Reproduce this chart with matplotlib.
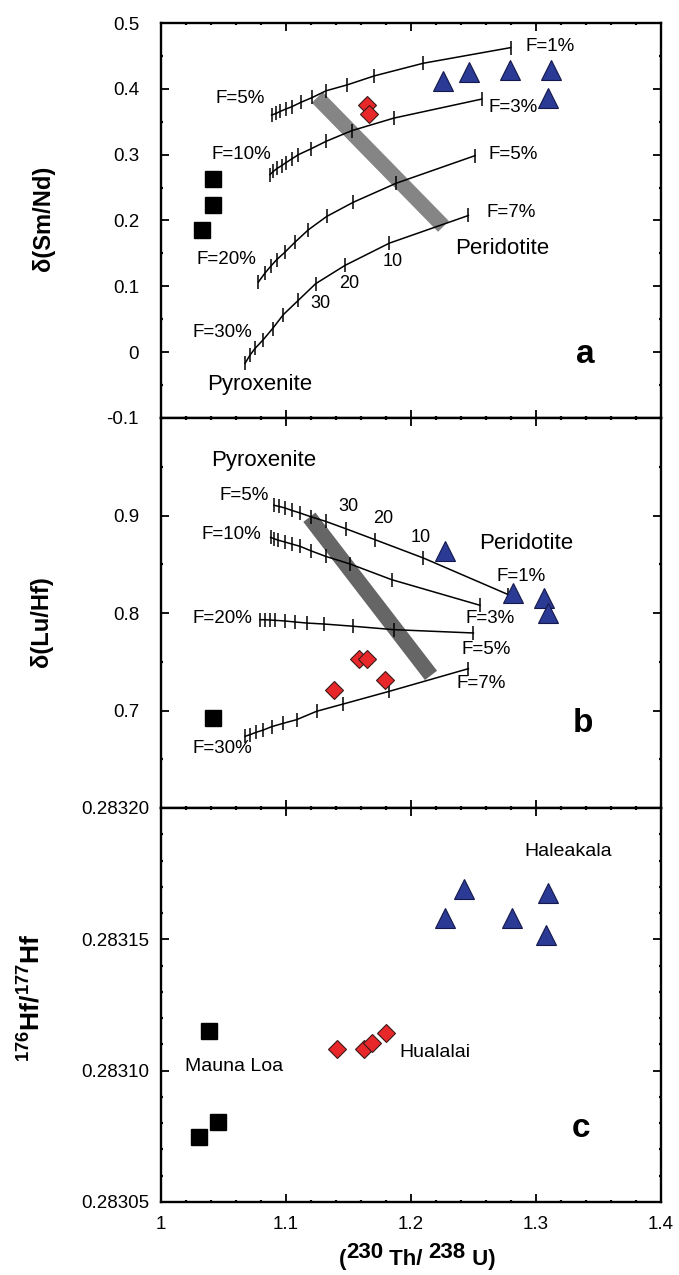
import matplotlib
matplotlib.use('Agg')
import matplotlib.pyplot as plt
from matplotlib.ticker import MultipleLocator, FixedLocator, FormatStrFormatter, FuncFormatter

plt.rcParams['font.family'] = ['Liberation Sans', 'DejaVu Sans']
plt.rcParams['mathtext.fontset'] = 'custom'
plt.rcParams['mathtext.rm'] = 'Liberation Sans'
plt.rcParams['mathtext.bf'] = 'Liberation Sans:bold'
plt.rcParams['axes.unicode_minus'] = False

# ---------------- data: panel a  (Th/U vs delta Sm/Nd) ----------------
a_tri_x = [1.2259, 1.2467, 1.2792, 1.3120, 1.3093]
a_tri_y = [0.412, 0.425, 0.428, 0.428, 0.386]
a_dia_x = [1.1645, 1.1667]
a_dia_y = [0.376, 0.362]
a_sq_x = [1.0413, 1.0419, 1.0325]
a_sq_y = [0.263, 0.224, 0.186]

a_c1_x = [1.0885, 1.0920, 1.0952, 1.0997, 1.1045, 1.1117, 1.1211, 1.1320, 1.1491, 1.1707, 1.2099, 1.2797]
a_c1_y = [0.3601, 0.3626, 0.3656, 0.3692, 0.3727, 0.3793, 0.3869, 0.3970, 0.4061, 0.4197, 0.4389, 0.4626]
a_c2_x = [1.0872, 1.0899, 1.0930, 1.0965, 1.1000, 1.1045, 1.1099, 1.1197, 1.1320, 1.1525, 1.1864, 1.2565]
a_c2_y = [0.2697, 0.2747, 0.2793, 0.2833, 0.2879, 0.2934, 0.3000, 0.3086, 0.3202, 0.3364, 0.3556, 0.3844]
a_c3_x = [1.0779, 1.0832, 1.0877, 1.0925, 1.0992, 1.1072, 1.1179, 1.1325, 1.1538, 1.1880, 1.2512]
a_c3_y = [0.1065, 0.1202, 0.1303, 0.1404, 0.1520, 0.1671, 0.1859, 0.2061, 0.2277, 0.2565, 0.2985]
a_c4_x = [1.0672, 1.0712, 1.0752, 1.0819, 1.0893, 1.0979, 1.1099, 1.1237, 1.1472, 1.1827, 1.2459]
a_c4_y = [-0.0171, -0.0045, 0.0056, 0.0192, 0.0359, 0.0571, 0.0788, 0.1040, 0.1318, 0.1656, 0.2076]
a_band_x = [1.125, 1.226]
a_band_y = [0.387, 0.191]

a_labels = ['F=5%', 'F=10%', 'F=20%', 'F=30%', 'F=1%', 'F=3%', 'F=5%', 'F=7%', '10', '20', '30']
a_lab_x = [1.0637, 1.0645, 1.0520, 1.0493, 1.3112, 1.2819, 1.2819, 1.2805, 1.1853, 1.1504, 1.1277]
a_lab_y = [0.385, 0.300, 0.1404, 0.0293, 0.4636, 0.3717, 0.301, 0.2126, 0.138, 0.104, 0.0738]

# ---------------- data: panel b  (Th/U vs delta Lu/Hf) ----------------
b_tri_x = [1.2272, 1.2813, 1.3064, 1.3099]
b_tri_y = [0.8633, 0.8205, 0.8154, 0.800]
b_dia_x = [1.1587, 1.1651, 1.1387, 1.1792]
b_dia_y = [0.7531, 0.7528, 0.7207, 0.7316]
b_sq_x = [1.0413]
b_sq_y = [0.6923]

b_c1_x = [1.0904, 1.0941, 1.0992, 1.1045, 1.1112, 1.1197, 1.1317, 1.1477, 1.1712, 1.2099, 1.2779]
b_c1_y = [0.9105, 0.9094, 0.9077, 0.9053, 0.9026, 0.8988, 0.8940, 0.8865, 0.8752, 0.8564, 0.8188]
b_c2_x = [1.0877, 1.0904, 1.0939, 1.0992, 1.1045, 1.1112, 1.1197, 1.1317, 1.1512, 1.1845, 1.2552]
b_c2_y = [0.8776, 0.8762, 0.8746, 0.8728, 0.8708, 0.8684, 0.8639, 0.8581, 0.8503, 0.8342, 0.8079]
b_c3_x = [1.0792, 1.0832, 1.0872, 1.0912, 1.0992, 1.1072, 1.1165, 1.1304, 1.1538, 1.1864, 1.2499]
b_c3_y = [0.7931, 0.7931, 0.7928, 0.7925, 0.7918, 0.7908, 0.7897, 0.7887, 0.7864, 0.7829, 0.7795]
b_c4_x = [1.0672, 1.0712, 1.0760, 1.0819, 1.0885, 1.0979, 1.1085, 1.1245, 1.1459, 1.1827, 1.2459]
b_c4_y = [0.6735, 0.6752, 0.6776, 0.6800, 0.6834, 0.6869, 0.6906, 0.6992, 0.7067, 0.7197, 0.7429]
b_band_x = [1.1187, 1.216]
b_band_y = [0.8982, 0.736]

b_labels = ['F=5%', 'F=10%', 'F=20%', 'F=30%', 'F=1%', 'F=3%', 'F=5%', 'F=7%', '10', '20', '30']
b_lab_x = [1.0664, 1.0565, 1.0493, 1.0493, 1.2877, 1.2632, 1.2600, 1.2565, 1.2077, 1.1779, 1.1499]
b_lab_y = [0.9207, 0.8803, 0.7942, 0.6615, 0.8376, 0.7942, 0.7624, 0.7272, 0.8776, 0.8968, 0.9094]

# ---------------- data: panel c  (Th/U vs 176Hf/177Hf) ----------------
c_tri_x = [1.2424, 1.2272, 1.2810, 1.3099, 1.3080]
c_tri_y = [0.2831692, 0.2831580, 0.2831580, 0.2831676, 0.2831516]
c_sq_x = [1.0384, 1.0453, 1.0304]
c_sq_y = [0.2831152, 0.2830804, 0.2830747]
c_dia_x = [1.1411, 1.1621, 1.1685, 1.1797]
c_dia_y = [0.2831081, 0.2831084, 0.2831106, 0.2831144]

c_labels = ['Haleakala', 'Hualalai', 'Mauna Loa']
c_lab_x = [1.3259, 1.2192, 1.0584]
c_lab_y = [0.2831835, 0.2831069, 0.2831014]

x_ticks = [1.0, 1.1, 1.2, 1.3, 1.4]
x_tick_labels = ['1', '1.1', '1.2', '1.3', '1.4']
a_yticks = [-0.1, 0.0, 0.1, 0.2, 0.3, 0.4, 0.5]
b_yticks = [0.7, 0.8, 0.9]
c_yticks = [0.28305, 0.28310, 0.28315, 0.28320]

# ---------------- figure ----------------
W, H = 679, 1275
fig = plt.figure(figsize=(W / 100, H / 100), dpi=100)


def axes_px(top, bottom):
    return fig.add_axes([161 / W, (H - bottom) / H, 500 / W, (bottom - top) / H])


axa = axes_px(23, 418)
axb = axes_px(418, 808)
axc = axes_px(808, 1202)

TICKFS = 13.5


def style(ax, ypad):
    ax.set_xlim(1.0, 1.4)
    ax.xaxis.set_major_locator(FixedLocator(x_ticks))
    ax.xaxis.set_minor_locator(MultipleLocator(0.02))
    ax.tick_params(which='both', direction='in', top=True, right=True, labelsize=TICKFS)
    ax.tick_params(which='major', length=6, width=1.3)
    ax.tick_params(which='minor', length=1.6, width=1.6)
    ax.tick_params(axis='y', pad=ypad)
    ax.tick_params(axis='x', pad=10)
    for s in ax.spines.values():
        s.set_linewidth(1.7)


TRI = dict(marker='^', ms=14, mfc='#2B3A94', mec='#15184A', mew=0.8, ls='none', zorder=5)
DIA = dict(marker='D', ms=9.3, mfc='#E8272B', mec='#3a1a1a', mew=0.8, ls='none', zorder=5)
SQ = dict(marker='s', ms=12, mfc='black', mec='black', ls='none', zorder=5)
CURVE = dict(color='black', lw=1.1, marker='|', ms=9.5, mew=1.1, zorder=3)

FLAB = 13.5
BIG = 16

# ---- panel a ----
style(axa, 15.8)
axa.set_ylim(-0.1, 0.5)
axa.yaxis.set_major_locator(FixedLocator(a_yticks))
axa.yaxis.set_minor_locator(MultipleLocator(0.05))
axa.yaxis.set_major_formatter(FuncFormatter(lambda v, p: f'{round(v, 2):g}'))
axa.tick_params(labelbottom=False)
axa.plot(a_band_x, a_band_y, color='#858585', lw=11, solid_capstyle='butt', zorder=2)
for cx, cy in [(a_c1_x, a_c1_y), (a_c2_x, a_c2_y), (a_c3_x, a_c3_y), (a_c4_x, a_c4_y)]:
    axa.plot(cx, cy, **CURVE)
axa.plot(a_tri_x, a_tri_y, **TRI)
axa.plot(a_dia_x, a_dia_y, **DIA)
axa.plot(a_sq_x, a_sq_y, **SQ)
for s, x, y in zip(a_labels, a_lab_x, a_lab_y):
    axa.text(x, y, s, fontsize=(13 if s.isdigit() else FLAB), ha='center', va='center')
axa.text(1.273, 0.158, 'Peridotite', fontsize=BIG, ha='center', va='center')
axa.text(1.0792, -0.049, 'Pyroxenite', fontsize=BIG, ha='center', va='center')
axa.text(1.3392, -0.003, 'a', fontsize=24, fontweight='bold', ha='center', va='center')

# ---- panel b ----
style(axb, 15.8)
axb.set_ylim(0.6, 1.0)
axb.yaxis.set_major_locator(FixedLocator(b_yticks))
axb.yaxis.set_minor_locator(MultipleLocator(0.05))
axb.yaxis.set_major_formatter(FuncFormatter(lambda v, p: f'{round(v, 2):g}'))
axb.tick_params(labelbottom=False)
axb.plot(b_band_x, b_band_y, color='#666666', lw=11, solid_capstyle='butt', zorder=2)
for cx, cy in [(b_c1_x, b_c1_y), (b_c2_x, b_c2_y), (b_c3_x, b_c3_y), (b_c4_x, b_c4_y)]:
    axb.plot(cx, cy, **CURVE)
axb.plot(b_tri_x, b_tri_y, **TRI)
axb.plot(b_dia_x, b_dia_y, **DIA)
axb.plot(b_sq_x, b_sq_y, **SQ)
for s, x, y in zip(b_labels, b_lab_x, b_lab_y):
    axb.text(x, y, s, fontsize=(13 if s.isdigit() else FLAB), ha='center', va='center')
axb.text(1.2925, 0.8708, 'Peridotite', fontsize=BIG, ha='center', va='center')
axb.text(1.0824, 0.956, 'Pyroxenite', fontsize=BIG, ha='center', va='center')
axb.text(1.3373, 0.6862, 'b', fontsize=24, fontweight='bold', ha='center', va='center')

# ---- panel c ----
style(axc, 8.6)
axc.set_ylim(0.28305, 0.28320)
axc.yaxis.set_major_locator(FixedLocator(c_yticks))
axc.yaxis.set_minor_locator(MultipleLocator(0.00001))
axc.yaxis.set_major_formatter(FormatStrFormatter('%.5f'))
axc.set_xticks(x_ticks)
axc.set_xticklabels(x_tick_labels)
axc.plot(c_tri_x, c_tri_y, **TRI)
axc.plot(c_dia_x, c_dia_y, **DIA)
axc.plot(c_sq_x, c_sq_y, **SQ)
for s, x, y in zip(c_labels, c_lab_x, c_lab_y):
    axc.text(x, y, s, fontsize=14, ha='center', va='center')
axc.text(1.336, 0.2830781, 'c', fontsize=24, fontweight='bold', ha='center', va='center')

# ---- y labels ----
fig.text(44 / W, 1 - 218 / H, 'δ(Sm/Nd)', rotation=90, fontsize=17, fontweight='bold',
         ha='center', va='center')
fig.text(42 / W, 1 - 622 / H, 'δ(Lu/Hf)', rotation=90, fontsize=17, fontweight='bold',
         ha='center', va='center')
fig.text(30 / W, 1 - 998 / H, r'$^{\mathbf{176}}\mathbf{Hf/}^{\mathbf{177}}\mathbf{Hf}$',
         rotation=90, fontsize=19, ha='center', va='center')

# ---- x label built from pieces: ( 230 Th/ 238 U) ----
renderer = fig.canvas.get_renderer()
pieces = [('(', 0), ('230', 7), (' Th/ ', 0), ('238', 7), (' U)', 0)]
base_y = 1265
texts = []
xcur = 0.0
for s, dy in pieces:
    t = fig.text(xcur / W, (H - base_y + dy) / H, s, fontsize=16, fontweight='bold',
                 ha='left', va='baseline')
    bb = t.get_window_extent(renderer)
    texts.append((t, xcur, dy))
    xcur += bb.width
total = xcur
start = 417 - total / 2
for t, xo, dy in texts:
    t.set_x((start + xo) / W)

fig.savefig('out.png', dpi=100)
